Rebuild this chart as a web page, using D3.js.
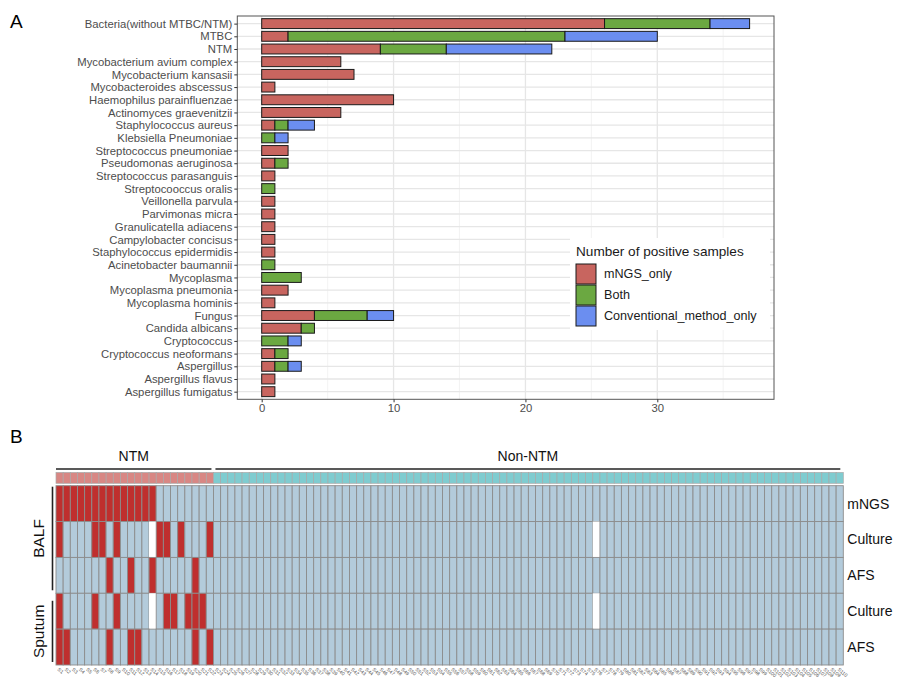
<!DOCTYPE html>
<html>
<head>
<meta charset="utf-8">
<script src="https://cdn.jsdelivr.net/npm/d3@7"></script>
<style>
  body { margin: 0; background: #fff; }
  svg, svg text { font-family: "Liberation Sans", Arial, sans-serif; }
</style>
</head>
<body>
<svg id="fig" width="906" height="690"></svg>
<script>
// ---- panel A data ----
const taxa = [
  "Bacteria(without MTBC/NTM)", "MTBC", "NTM", "Mycobacterium avium complex",
  "Mycobacterium kansasii", "Mycobacteroides abscessus", "Haemophilus parainfluenzae",
  "Actinomyces graevenitzii", "Staphylococcus aureus", "Klebsiella Pneumoniae",
  "Streptococcus pneumoniae", "Pseudomonas aeruginosa", "Streptococcus parasanguis",
  "Streptocooccus oralis", "Veillonella parvula", "Parvimonas micra",
  "Granulicatella adiacens", "Campylobacter concisus", "Staphylococcus epidermidis",
  "Acinetobacter baumannii", "Mycoplasma", "Mycoplasma pneumonia", "Mycoplasma hominis",
  "Fungus", "Candida albicans", "Cryptococcus", "Cryptococcus neoformans",
  "Aspergillus", "Aspergillus flavus", "Aspergillus fumigatus"
];
const mngsOnly = [26, 2, 9, 6, 7, 1, 10, 6, 1, 0, 2, 1, 1, 0, 1, 1, 1, 1, 1, 0, 0, 2, 1, 4, 3, 0, 1, 1, 1, 1];
const both     = [8, 21, 5, 0, 0, 0, 0, 0, 1, 1, 0, 1, 0, 1, 0, 0, 0, 0, 0, 1, 3, 0, 0, 4, 1, 2, 1, 1, 0, 0];
const convOnly = [3, 7, 8, 0, 0, 0, 0, 0, 2, 1, 0, 0, 0, 0, 0, 0, 0, 0, 0, 0, 0, 0, 0, 2, 0, 1, 0, 1, 0, 0];
const seriesNames = ["mNGS_only", "Both", "Conventional_method_only"];
const seriesColors = ["#C8655F", "#6BA841", "#6B8EF0"];
const xTicks = [0, 10, 20, 30];

// ---- panel B data ('1' positive, '0' negative, '.' missing) ----
const rowLabels = ["mNGS", "Culture", "AFS", "Culture", "AFS"];
const specimenGroups = [{ name: "BALF", rows: [0, 2] }, { name: "Sputum", rows: [3, 4] }];
const ntmRows = [
  "1111111111 1111000000 00",
  "1000011010 000.110100 01",
  "0000000100 1001000001 00",
  "1000010010 000.011011 10",
  "1100000100 1100000001 01"
];
const nonNtmRows = [
  "0000000000 0000000000 0000000000 0000000000 0000000000 0000000000 0000000000 0000000000 00000000",
  "0000000000 0000000000 0000000000 0000000000 0000000000 000.000000 0000000000 0000000000 00000000",
  "0000000000 0000000000 0000000000 0000000000 0000000000 0000000000 0000000000 0000000000 00000000",
  "0000000000 0000000000 0000000000 0000000000 0000000000 000.000000 0000000000 0000000000 00000000",
  "0000000000 0000000000 0000000000 0000000000 0000000000 0000000000 0000000000 0000000000 00000000"
];

const svg = d3.select("#fig");
const FONT = '"Liberation Sans", Arial, sans-serif';

// ================= Panel A =================
const pA = { left: 237.3, right: 774, top: 16, bottom: 399.3 };
const x = d3.scaleLinear().domain([-1.85, 38.85]).range([pA.left, pA.right]);
const y = d3.scalePoint().domain(taxa).range([pA.top, pA.bottom]).padding(0.6);
const barH = y.step() * 0.78;

svg.append("text").attr("x", 10).attr("y", 28).attr("font-size", 19).text("A");

const gA = svg.append("g");
gA.append("rect").attr("x", pA.left).attr("y", pA.top)
  .attr("width", pA.right - pA.left).attr("height", pA.bottom - pA.top).attr("fill", "#fff");

// grid
gA.selectAll(".minor").data([5, 15, 25, 35]).join("line")
  .attr("x1", d => x(d)).attr("x2", d => x(d)).attr("y1", pA.top).attr("y2", pA.bottom)
  .attr("stroke", "#F0F0F0").attr("stroke-width", 0.8);
gA.selectAll(".majx").data(xTicks).join("line")
  .attr("x1", d => x(d)).attr("x2", d => x(d)).attr("y1", pA.top).attr("y2", pA.bottom)
  .attr("stroke", "#E6E6E6").attr("stroke-width", 1.3);
gA.selectAll(".majy").data(taxa).join("line")
  .attr("x1", pA.left).attr("x2", pA.right).attr("y1", d => y(d)).attr("y2", d => y(d))
  .attr("stroke", "#E6E6E6").attr("stroke-width", 1.3);

// stacked bars
const stackRows = taxa.map((t, i) => ({ taxon: t, mNGS_only: mngsOnly[i], Both: both[i], Conventional_method_only: convOnly[i] }));
const stacked = d3.stack().keys(seriesNames)(stackRows);
stacked.forEach((layer, k) => {
  gA.append("g").selectAll("rect").data(layer.filter(d => d[1] > d[0])).join("rect")
    .attr("x", d => x(d[0])).attr("width", d => x(d[1]) - x(d[0]))
    .attr("y", d => y(d.data.taxon) - barH / 2).attr("height", barH)
    .attr("fill", seriesColors[k]).attr("stroke", "#1a1a1a").attr("stroke-width", 1);
});

// legend
const lg = gA.append("g").attr("transform", "translate(570,238)");
lg.append("rect").attr("width", 200).attr("height", 92).attr("fill", "#fff");
lg.append("text").attr("x", 6).attr("y", 18).attr("font-size", 13.6).attr("fill", "#1a1a1a")
  .text("Number of positive samples");
seriesNames.forEach((s, i) => {
  lg.append("rect").attr("x", 6).attr("y", 26 + i * 21).attr("width", 20).attr("height", 20)
    .attr("fill", seriesColors[i]).attr("stroke", "#1a1a1a").attr("stroke-width", 1);
  lg.append("text").attr("x", 34).attr("y", 36 + i * 21).attr("dy", "0.35em")
    .attr("font-size", 12.6).attr("fill", "#1a1a1a").text(s);
});

// border
gA.append("rect").attr("x", pA.left).attr("y", pA.top)
  .attr("width", pA.right - pA.left).attr("height", pA.bottom - pA.top)
  .attr("fill", "none").attr("stroke", "#555").attr("stroke-width", 1);

// axes
const yAxis = svg.append("g").attr("transform", `translate(${pA.left},0)`)
  .call(d3.axisLeft(y).tickSize(3).tickPadding(2))
  .attr("font-family", FONT);
yAxis.select(".domain").remove();
yAxis.selectAll("text").attr("font-size", 11.3).attr("fill", "#4D4D4D").style("font-family", FONT);
yAxis.selectAll("line").attr("stroke", "#333");

const xAxis = svg.append("g").attr("transform", `translate(0,${pA.bottom})`)
  .call(d3.axisBottom(x).tickValues(xTicks).tickSize(3).tickPadding(2))
  .attr("font-family", FONT);
xAxis.select(".domain").remove();
xAxis.selectAll("text").attr("font-size", 11.3).attr("fill", "#4D4D4D").style("font-family", FONT);
xAxis.selectAll("line").attr("stroke", "#333");

// ================= Panel B =================
const nNtm = ntmRows[0].replace(/ /g, "").length;
const cells = rowLabels.map((r, i) =>
  (ntmRows[i] + nonNtmRows[i]).replace(/ /g, "").split(""));
const nCols = cells[0].length;
const groupOf = d3.range(nCols).map(c => c < nNtm ? "NTM" : "Non-NTM");
const sampleIds = d3.range(nCols).map(c => "S" + (c + 1));

const pB = { left: 56, right: 843.3, top: 485.7, bottom: 665 };
const cx = d3.scaleBand().domain(d3.range(nCols)).range([pB.left, pB.right]);
const cy = d3.scaleBand().domain(d3.range(rowLabels.length)).range([pB.top, pB.bottom]);
const cellColor = { "1": "#BF2F2E", "0": "#B3CBDB", ".": "#FFFFFF" };
const annColor = { "NTM": "#D88784", "Non-NTM": "#7FCCD0" };

svg.append("text").attr("x", 10).attr("y", 443).attr("font-size", 19).text("B");

const gB = svg.append("g");
// heatmap cells
cells.forEach((row, r) => {
  gB.append("g").selectAll("rect").data(row).join("rect")
    .attr("x", (d, c) => cx(c)).attr("y", cy(r))
    .attr("width", cx.bandwidth()).attr("height", cy.bandwidth())
    .attr("fill", d => cellColor[d])
    .attr("stroke", d => d === "." ? "none" : "#8C8C8C").attr("stroke-width", 0.9);
});

// top annotation
gB.append("g").selectAll("rect").data(groupOf).join("rect")
  .attr("x", (d, c) => cx(c)).attr("y", 472.5)
  .attr("width", cx.bandwidth()).attr("height", 10.8)
  .attr("fill", d => annColor[d]).attr("stroke", "#A9A9A9").attr("stroke-width", 0.7);

// group brackets and titles
const groups = [
  { name: "NTM", x0: cx(0), x1: cx(nNtm - 1) + cx.bandwidth() - 2 },
  { name: "Non-NTM", x0: cx(nNtm) + 2, x1: pB.right - 3 }
];
groups.forEach(g => {
  gB.append("line").attr("x1", g.x0).attr("x2", g.x1).attr("y1", 469).attr("y2", 469)
    .attr("stroke", "#222").attr("stroke-width", 1.6);
  gB.append("text").attr("x", (g.x0 + g.x1) / 2).attr("y", 461)
    .attr("text-anchor", "middle").attr("font-size", 14).attr("fill", "#111").text(g.name);
});

// row labels
gB.selectAll(".rl").data(rowLabels).join("text")
  .attr("x", pB.right + 4).attr("y", (d, i) => cy(i) + cy.bandwidth() / 2)
  .attr("dy", "0.35em").attr("font-size", 14).attr("fill", "#111").text(d => d);

// specimen groups
specimenGroups.forEach((g, i) => {
  const y0 = cy(g.rows[0]) + (i === 0 ? 1 : 7.5);
  const y1 = cy(g.rows[1]) + cy.bandwidth() - 3;
  gB.append("line").attr("x1", 52.5).attr("x2", 52.5).attr("y1", y0).attr("y2", y1)
    .attr("stroke", "#222").attr("stroke-width", 1.6);
  const ym = (y0 + y1) / 2;
  gB.append("text").attr("transform", `translate(44,${ym}) rotate(-90)`)
    .attr("text-anchor", "middle").attr("font-size", 15.5).attr("fill", "#111").text(g.name);
});

// column labels
gB.selectAll(".cl").data(sampleIds).join("text")
  .attr("transform", (d, c) => `translate(${cx(c) + cx.bandwidth() / 2 - 2.5},${pB.bottom + 5}) rotate(40)`)
  .attr("font-size", 5).attr("fill", "#555").text(d => d);
</script>
</body>
</html>
